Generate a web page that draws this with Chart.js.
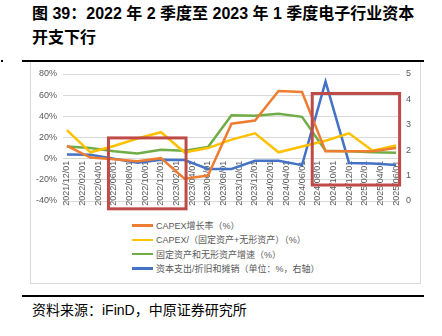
<!DOCTYPE html>
<html>
<head>
<meta charset="utf-8">
<script src="https://cdn.jsdelivr.net/npm/chart.js@4.4.0/dist/chart.umd.min.js"></script>
<style>
  body { margin: 0; width: 442px; height: 336px; background: #fff; position: relative; overflow: hidden;
         font-family: "Liberation Sans", "Noto Sans CJK SC", sans-serif; }
  #title { position: absolute; left: 32px; top: 2px; font-size: 16px; font-weight: bold; line-height: 24px; color: #000; white-space: nowrap; }
  .rule { position: absolute; left: 22px; width: 402px; height: 2px; background: #000; }
  #dot { position: absolute; left: 1px; top: 60px; width: 2px; height: 2px; background: #000; }
  #frame { position: absolute; left: 30px; top: 62px; width: 391px; height: 222px; border-left: 1px solid #d9d9d9; border-bottom: 1px solid #d9d9d9; border-right: 1px solid #d9d9d9; box-sizing: border-box; }
  #wrap { position: absolute; left: 30px; top: 62px; width: 391px; height: 155px; }
  #legend { position: absolute; left: 132px; top: 219px; font-size: 9px; color: #595959; line-height: 14.3px; }
  #legend div { white-space: nowrap; }
  #legend span.sw { display: inline-block; width: 21px; height: 2.5px; vertical-align: middle; margin-right: 3px; margin-top: -2px; }
  #source { position: absolute; left: 32px; top: 301px; font-size: 14px; line-height: 18px; color: #000; white-space: nowrap; }
</style>
</head>
<body>
<div id="title">图 39：2022 年 2 季度至 2023 年 1 季度电子行业资本<br>开支下行</div>
<div id="dot"></div>
<div class="rule" style="top:60px"></div>
<div id="frame"></div>
<div id="wrap"><canvas id="chart"></canvas></div>
<div id="legend"></div>
<div class="rule" style="top:295px"></div>
<div id="source">资料来源：iFinD，中原证券研究所</div>
<script>
// quarterly observations
const quarters = ['2021/12/01', '2022/03/01', '2022/06/01', '2022/09/01', '2022/12/01', '2023/03/01', '2023/06/01',
  '2023/09/01', '2023/12/01', '2024/03/01', '2024/06/01', '2024/09/01', '2024/12/01', '2025/03/01', '2025/06/01'];
const capexGrowth = [12, 1, -0.5, -2.5, 0.5, -19, -16, 33, 36, 64, 63, 7, 7, 7, 10];
const capexRatio = [27, 6, 12, 19, 25, 6, 10, 18, 24, 6, 11.5, 17, 24, 7.5, 12.5];
const assetGrowth = [11.5, 10, 7, 5, 8.5, 7.5, 11, 41, 40.5, 42.5, 39.5, 7.5, 7, 6, 5.5];
const capexDepRatio = [1.83, 1.82, 1.66, 1.51, 1.62, 1.61, 1.26, 1.26, 1.58, 1.58, 1.41, 4.7, 1.5, 1.48, 1.42];

const seriesNames = ['CAPEX增长率（%）', 'CAPEX/（固定资产+无形资产）（%）', '固定资产和无形资产增速（%）', '资本支出/折旧和摊销（单位：%，右轴）'];
const seriesColors = ['#ED7D31', '#FFC000', '#70AD47', '#4472C4'];

const leftTicks = [-40, -20, 0, 20, 40, 60, 80];
const rightTicks = [0, 1, 2, 3, 4, 5];

// highlighted periods: month index range and left-axis value range
const boxMonths = [[5.3, 15.2], [31.3, 42.45]];
const boxValues = [[19.6, -47.4], [61.6, -24.9]];

// monthly category axis from first to last quarter
const months = [];
{
  let [yy, mm] = quarters[0].split('/').map(Number);
  const [ey, em] = quarters[quarters.length - 1].split('/').map(Number);
  while (yy < ey || (yy === ey && mm <= em)) {
    months.push(yy + '/' + String(mm).padStart(2, '0') + '/01');
    mm++; if (mm > 12) { mm = 1; yy++; }
  }
}
function toMonthly(vals) {
  const out = months.map(() => null);
  quarters.forEach((q, i) => { out[months.indexOf(q)] = vals[i]; });
  return out;
}

const allSeries = [capexGrowth, capexRatio, assetGrowth, capexDepRatio];
const datasets = allSeries.map((vals, i) => ({
  label: seriesNames[i],
  data: toMonthly(vals),
  borderColor: seriesColors[i],
  backgroundColor: seriesColors[i],
  borderWidth: 2.5,
  pointRadius: 0,
  tension: 0,
  spanGaps: true,
  yAxisID: i === 3 ? 'y1' : 'y'
}));

document.getElementById('legend').innerHTML = seriesNames.map((n, i) =>
  '<div><span class="sw" style="background:' + seriesColors[i] + '"></span>' + n + '</div>').join('');

const boxPlugin = {
  id: 'boxes',
  afterDatasetsDraw(chart) {
    const { ctx, scales: { x, y } } = chart;
    ctx.save();
    ctx.strokeStyle = '#BE4B48';
    ctx.lineWidth = 3;
    boxMonths.forEach((m, i) => {
      const x0 = x.getPixelForValue(m[0]), x1 = x.getPixelForValue(m[1]);
      const y0 = y.getPixelForValue(boxValues[i][0]), y1 = y.getPixelForValue(boxValues[i][1]);
      ctx.strokeRect(x0, y0, x1 - x0, y1 - y0);
    });
    ctx.restore();
  }
};

const tickFont = { family: 'Liberation Sans', size: 9 };
new Chart(document.getElementById('chart'), {
  type: 'line',
  data: { labels: months, datasets: datasets },
  plugins: [boxPlugin],
  options: {
    responsive: true,
    maintainAspectRatio: false,
    animation: false,
    layout: { padding: { top: 12, bottom: 16, left: 0, right: 0 } },
    plugins: { legend: { display: false }, tooltip: { enabled: false } },
    scales: {
      x: {
        position: { y: 0 },
        offset: true,
        grid: { display: false, drawTicks: false },
        border: { display: false },
        ticks: {
          autoSkip: false, minRotation: 90, maxRotation: 90, padding: 2,
          color: '#595959', font: tickFont,
          callback: function (v, i) { return i % 2 === 0 ? this.getLabelForValue(v) : null; }
        }
      },
      y: {
        position: 'left',
        min: leftTicks[0], max: leftTicks[leftTicks.length - 1],
        afterBuildTicks: s => { s.ticks = leftTicks.map(v => ({ value: v })); },
        afterFit: s => { s.width = 33; },
        grid: { color: '#d9d9d9', drawTicks: false },
        border: { display: false },
        ticks: { padding: 6, color: '#595959', font: tickFont, callback: v => v + '%' }
      },
      y1: {
        position: 'right',
        min: rightTicks[0], max: rightTicks[rightTicks.length - 1],
        afterBuildTicks: s => { s.ticks = rightTicks.map(v => ({ value: v })); },
        afterFit: s => { s.width = 21; },
        grid: { display: false, drawTicks: false },
        border: { display: false },
        ticks: { padding: 6, color: '#595959', font: tickFont }
      }
    }
  }
});
</script>
</body>
</html>
